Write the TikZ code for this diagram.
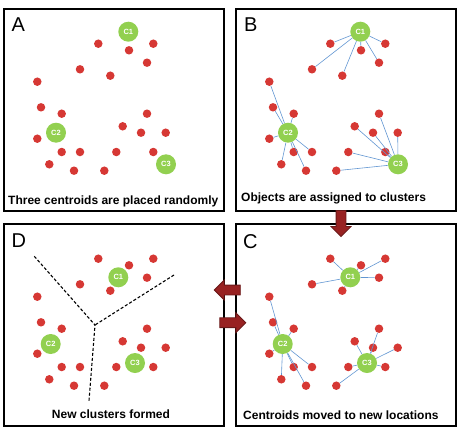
\documentclass[tikz,border=0pt]{standalone}
\usepackage{fontspec}
\setmainfont{Liberation Sans}
\usetikzlibrary{positioning,shapes.arrows}

\definecolor{dotred}{RGB}{214,56,52}
\definecolor{cgreen}{RGB}{146,208,80}
\definecolor{linkblue}{RGB}{98,150,210}
\definecolor{arrred}{RGB}{152,34,34}

% object positions in a panel: x/y/index
\newcommand{\objlist}{98.3/43.7/1, 153.3/43.7/2, 129/50.3/3, 147/62.7/4, 80/69.3/5,
  110.3/75.7/6, 37.3/81.7/7, 41/107.3/8, 61.7/113.7/9, 147/113.7/10, 122.7/126.3/11,
  141/132.7/12, 165.7/132.7/13, 37.3/138.7/14, 61.7/152/15, 80/152/16, 116.3/152/17,
  153.3/152/18, 49.3/164.3/19, 74/170.7/20, 104.3/170.7/21}

\begin{document}
\begin{tikzpicture}[
  x=1pt, y=-1pt,
  panel/.style={draw, line width=1.8pt, minimum width=220pt, minimum height=202pt, outer sep=0pt, inner sep=0pt},
  letter/.style={font=\fontsize{20}{20}\selectfont, inner sep=0pt},
  caption/.style={font=\fontsize{12}{12}\selectfont\bfseries, inner sep=0pt},
  obj/.style={circle, fill=dotred, minimum size=8.5pt, inner sep=0pt},
  cent/.style={circle, fill=cgreen, minimum size=20pt, inner sep=0pt, text=white, font=\fontsize{7.5}{7.5}\selectfont\bfseries},
  link/.style={draw=linkblue, line width=0.6pt},
  split/.style={line width=1.1pt, dash pattern=on 3pt off 2pt},
  blockarr/.style={single arrow, draw=arrred!70!black, fill=arrred, line width=0.8pt, single arrow head extend=5pt,
    minimum height=26pt, minimum width=19pt, inner sep=4.5pt}
]
  \useasboundingbox (0,0) rectangle (462,428);

  % A: random centroids
  \node[panel] (pA) at (114,110) {};
  \node[letter, below right=8.5pt and 7.5pt of pA.north west] (lA) {A};
  \node[cent] (aC1) at (128.3,31.7) {C1};
  \node[cent] (aC2) at (56,132.7) {C2};
  \node[cent] (aC3) at (166,164.3) {C3};
  \foreach \x/\y/\n in \objlist
    \node[obj] (a\n) at (\x,\y) {};
  \node[caption, anchor=base west] (capA) at (8,204) {Three centroids are placed randomly};

  % B: assignment
  \begin{scope}[shift={(232,0)}]
    \node[panel] (pB) at (114,110) {};
    \node[letter, below right=9pt and 8pt of pB.north west] (lB) {B};
    \node[cent] (bC1) at (128.3,31.7) {C1};
    \node[cent] (bC2) at (56,132.7) {C2};
    \node[cent] (bC3) at (166,164.3) {C3};
    \foreach \x/\y/\n in \objlist
      \node[obj] (b\n) at (\x,\y) {};
    \foreach \n in {1,...,6}
      \draw[link] (bC1) -- (b\n);
    \foreach \n in {7,8,9,14,15,16,19,20}
      \draw[link] (bC2) -- (b\n);
    \foreach \n in {10,11,12,13,17,18,21}
      \draw[link] (bC3) -- (b\n);
    \node[caption, anchor=base west] (capB) at (9,201.7) {Objects are assigned to clusters};
  \end{scope}

  % D: new clusters
  \begin{scope}[shift={(0,215)}]
    \node[panel] (pD) at (114,110) {};
    \node[letter, below right=10pt and 7.5pt of pD.north west] (lD) {D};
    \node[cent] (dC1) at (118.3,62.3) {C1};
    \node[cent] (dC2) at (50.7,129) {C2};
    \node[cent] (dC3) at (135,148) {C3};
    \foreach \x/\y/\n in \objlist
      \node[obj] (d\n) at (\x,\y) {};
    \coordinate (dmid) at (95,110);
    \coordinate (dend1) at (34.3,41.3);
    \coordinate (dend2) at (174,60);
    \coordinate (dend3) at (89,185.7);
    \draw[split] (dend1) -- (dmid);
    \draw[split] (dend2) -- (dmid);
    \draw[split] (dend3) -- (dmid);
    \node[caption, anchor=base] (capD) at (111,203) {New clusters formed};
  \end{scope}

  % C: moved centroids
  \begin{scope}[shift={(232,215)}]
    \node[panel] (pC) at (114,110) {};
    \node[letter, below right=10.5pt and 7pt of pC.north west] (lC) {C};
    \node[cent] (cC1) at (118.3,62.3) {C1};
    \node[cent] (cC2) at (50.7,129) {C2};
    \node[cent] (cC3) at (135,148) {C3};
    \foreach \x/\y/\n in \objlist
      \node[obj] (c\n) at (\x,\y) {};
    \foreach \n in {1,...,6}
      \draw[link] (cC1) -- (c\n);
    \foreach \n in {7,8,9,14,15,16,19,20}
      \draw[link] (cC2) -- (c\n);
    \foreach \n in {10,11,12,13,17,18,21}
      \draw[link] (cC3) -- (c\n);
    \node[caption, anchor=base west] (capC) at (11,204) {Centroids moved to new locations};
  \end{scope}

  % steps between panels
  \node[blockarr, shape border rotate=270] (toC) at (341,221) {};
  \node[blockarr, shape border rotate=180] (toD) at (229.7,290) {};
  \node[blockarr, shape border rotate=0] (toCb) at (230.3,322.7) {};
\end{tikzpicture}
\end{document}
